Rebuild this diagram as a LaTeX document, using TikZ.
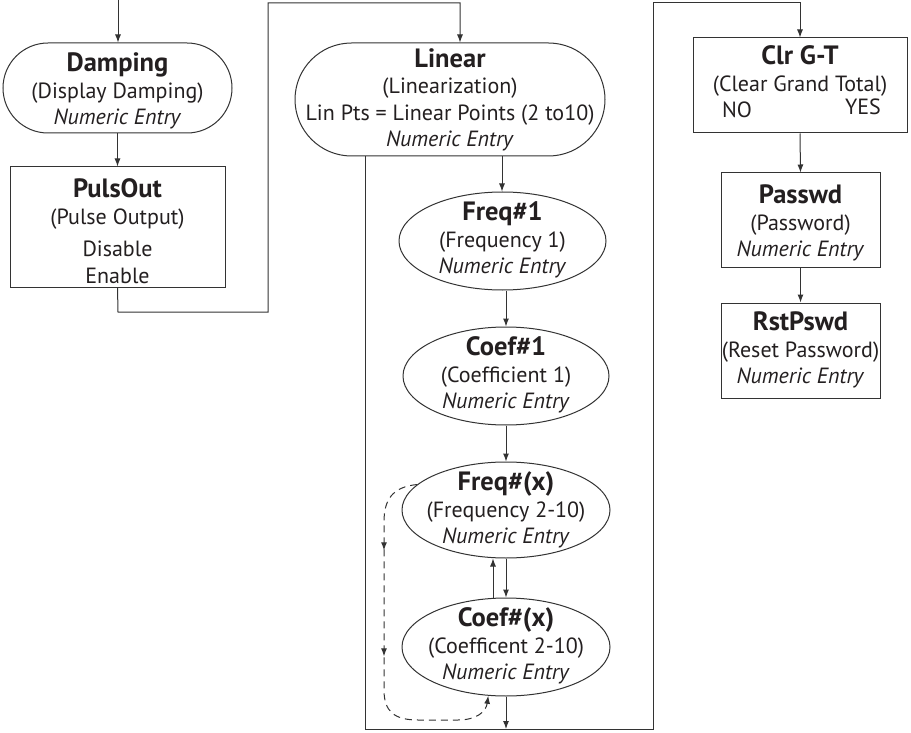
\documentclass[tikz,border=0pt]{standalone}
\usepackage{fontspec}
\setmainfont{PT Sans}
\usetikzlibrary{shapes.misc,shapes.geometric,arrows.meta,decorations.markings}
\definecolor{ink}{HTML}{231F20}
\definecolor{linec}{HTML}{333333}
\tikzset{
  ln/.style={draw=linec, line width=1pt},
  arr/.style={ln, -{Latex[length=8pt,width=6pt]}},
  boxshape/.style={ln, rectangle, inner sep=0pt},
  stadium/.style={ln, rounded rectangle, inner sep=0pt},
  oval/.style={ln, ellipse, inner sep=0pt},
  txt/.style={align=center, inner sep=0pt, text=ink, font=\fontsize{22}{26.5}\selectfont},
}
\newcommand{\ttl}[1]{{\bfseries\fontsize{26.5}{26.5}\selectfont #1}}
\begin{document}
\begin{tikzpicture}[x=1pt,y=-1pt]
\fill[white] (0,0) rectangle (911,733);
\useasboundingbox (0,0) rectangle (911,733);

% left column
\node[stadium, minimum width=229pt, minimum height=90pt] (damp) at (117.5,88) {};
\node[txt] (dampT) at (117.5,91) {\ttl{Damping}\\(Display Damping)\\\textit{Numeric Entry}};
\node[boxshape, minimum width=215pt, minimum height=120pt] (puls) at (117.5,227) {};
\node[txt] (pulsT) at (117.5,231) {\ttl{PulsOut}\\(Pulse Output)\\[6pt]Disable\\Enable};

% middle column
\node[stadium, minimum width=310pt, minimum height=113pt] (lin) at (450,99.5) {};
\node[txt] (linT) at (450,100) {\ttl{Linear}\\(Linearization)\\Lin Pts = Linear Points (2 to10)\\\textit{Numeric Entry}};
\node[oval, minimum width=207pt, minimum height=98pt] (f1) at (502.5,241) {};
\node[txt] (f1T) at (502.5,240) {\ttl{Freq\#1}\\(Frequency 1)\\\textit{Numeric Entry}};
\node[oval, minimum width=206pt, minimum height=98pt] (c1) at (506,376) {};
\node[txt] (c1T) at (506,375) {\ttl{Coef\#1}\\(Coefficient 1)\\\textit{Numeric Entry}};
\node[oval, minimum width=208pt, minimum height=96pt] (fx) at (506,510) {};
\node[txt] (fxT) at (506,510) {\ttl{Freq\#(x)}\\(Frequency 2-10)\\\textit{Numeric Entry}};
\node[oval, minimum width=208pt, minimum height=98pt] (cx) at (506,647) {};
\node[txt] (cxT) at (506,646) {\ttl{Coef\#(x)}\\(Coefficent 2-10)\\\textit{Numeric Entry}};

% right column
\node[boxshape, minimum width=214pt, minimum height=95pt] (clr) at (800,85.5) {};
\node[txt] (clrT) at (800,82) {\ttl{Clr G-T}\\(Clear Grand Total)\\\makebox[0pt]{NO}\hspace{126pt}\makebox[0pt]{\raisebox{3pt}{YES}}};
\node[boxshape, minimum width=159pt, minimum height=94pt] (pw) at (800.5,220) {};
\node[txt] (pwT) at (800.5,223) {\ttl{Passwd}\\(Password)\\\textit{Numeric Entry}};
\node[boxshape, minimum width=159pt, minimum height=95pt] (rst) at (800.5,350.5) {};
\node[txt] (rstT) at (800.5,350) {\ttl{RstPswd}\\(Reset Password)\\\textit{Numeric Entry}};

% connector points
\coordinate (top0) at (118,0);
\coordinate (p1) at (118,312);
\coordinate (p2) at (268,312);
\coordinate (p3) at (268,3);
\coordinate (p4) at (460,3);
\coordinate (bx) at (365,729);
\coordinate (by) at (653,729);
\coordinate (q3) at (653,3);
\coordinate (q4) at (800,3);
\coordinate (m1) at (502,0);

% connectors
\draw[arr] (top0) -- (top0 |- damp.north);
\draw[arr] (damp.south) -- (puls.north);
\draw[arr] (puls.south) -- (p1) -- (p2) -- (p3) -- (p4) -- (p4 |- lin.north);
\draw[arr] (bx |- lin.south) -- (bx) -- (by) -- (q3) -- (q4) -- (clr.north);
\draw[arr] (m1 |- lin.south) -- (m1 |- f1.north);
\draw[arr] (c1.north |- f1.south) -- (c1.north);
\draw[arr] (c1.south) -- (fx.north);
\draw[arr] (fx.south) -- (cx.north);
\draw[arr] ([xshift=-13pt]cx.north) -- ([xshift=-13pt]fx.south);
\draw[arr] (cx.south) -- (cx.south |- bx);
\draw[arr, dash pattern=on 7pt off 5pt,
  postaction={decorate},
  decoration={markings,
    mark=at position 85pt with {\arrow{Latex[length=8pt,width=6pt]}},
    mark=at position 191pt with {\arrow{Latex[length=8pt,width=6pt]}}}]
  (fx.164) .. controls (392,487) and (384,500) .. (384,522) -- (384,690)
  .. controls (384,712) and (395,720) .. (418,720) -- (458,720)
  .. controls (476,720) and (486,712) .. (cx.250);

\draw[arr] (clr.south) -- (pw.north);
\draw[arr] (pw.south) -- (rst.north);
\end{tikzpicture}
\end{document}
